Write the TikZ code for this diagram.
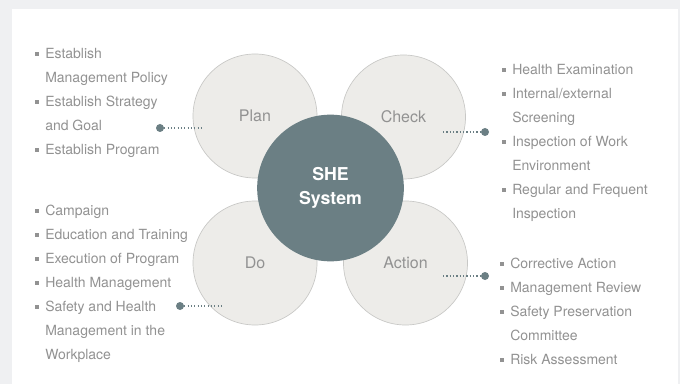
\documentclass[tikz,border=0pt]{standalone}
\usepackage{fontspec}
\setmainfont{TeX Gyre Heros}
\definecolor{bggray}{HTML}{EFF0F2}
\definecolor{petal}{HTML}{EDECE9}
\definecolor{petalline}{HTML}{C8C8C6}
\definecolor{core}{HTML}{6B7F84}
\definecolor{txtgray}{HTML}{929292}
\newcommand{\itm}{\makebox[7.5pt][l]{\raisebox{2.2pt}{\rule{3pt}{3pt}}}}
\newcommand{\ind}{\hspace*{7.5pt}}
\begin{document}
\begin{tikzpicture}[
  x=0.75pt, y=-0.75pt,
  petalnode/.style={circle, draw=petalline, line width=0.5pt, fill=petal, minimum size=93pt,
    inner sep=0pt, text=txtgray, font=\fontsize{12pt}{14pt}\selectfont},
  corenode/.style={circle, fill=core, minimum size=110pt, inner sep=0pt, text=white, align=center,
    font=\fontsize{13.3pt}{18pt}\selectfont\bfseries},
  itemlist/.style={anchor=north west, inner sep=0pt, align=left, text=txtgray,
    font=\fontsize{10.5pt}{18pt}\selectfont},
  pin/.style={circle, fill=core, minimum size=6pt, inner sep=0pt},
  dotline/.style={draw=core, line width=0.9pt, dash pattern=on 0.9pt off 1.6pt}
]
\fill[bggray] (0,0) rectangle (680,384);
\fill[white] (12,9) rectangle (678,384);
\useasboundingbox (0,0) rectangle (680,384);

\node[petalnode] (plan)   at (255,116)   {Plan};
\node[petalnode] (check)  at (403.5,117) {Check};
\node[petalnode] (do)     at (255,263)   {Do};
\node[petalnode] (action) at (405.5,263) {Action};
\node[corenode]  (she)    at (330.5,188) {SHE\\System};

\node[itemlist] (planlist) at (35,48) {\itm Establish\\ \ind Management Policy\\ \itm Establish Strategy\\ \ind and Goal\\ \itm Establish Program};
\node[itemlist] (checklist) at (502,64) {\itm Health Examination\\ \itm Internal/external\\ \ind Screening\\ \itm Inspection of Work\\ \ind Environment\\ \itm Regular and Frequent\\ \ind Inspection};
\node[itemlist] (dolist) at (35,205) {\itm Campaign\\ \itm Education and Training\\ \itm Execution of Program\\ \itm Health Management\\ \itm Safety and Health\\ \ind Management in the\\ \ind Workplace};
\node[itemlist] (actionlist) at (500,258) {\itm Corrective Action\\ \itm Management Review\\ \itm Safety Preservation\\ \ind Committee\\ \itm Risk Assessment};

\node[pin] (planpin)   at (160,128) {};
\node[pin] (checkpin)  at (485,132) {};
\node[pin] (dopin)     at (180,306) {};
\node[pin] (actionpin) at (485,276) {};
\coordinate (planend)   at (202,128);
\coordinate (checkend)  at (443,132);
\coordinate (doend)     at (222,306);
\coordinate (actionend) at (443,276);

\draw[dotline] (planpin) -- (planend);
\draw[dotline] (checkend) -- (checkpin);
\draw[dotline] (dopin) -- (doend);
\draw[dotline] (actionend) -- (actionpin);
\end{tikzpicture}
\end{document}
